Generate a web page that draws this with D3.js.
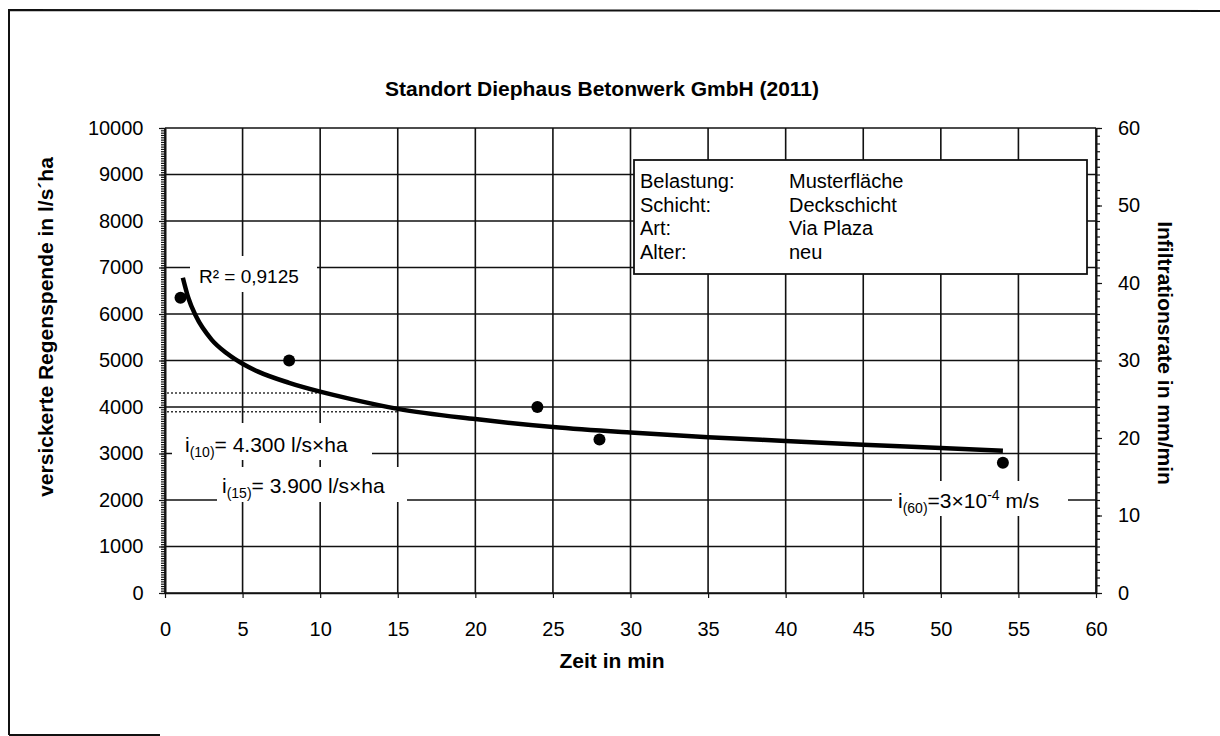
<!DOCTYPE html>
<html><head><meta charset="utf-8">
<script src="https://cdn.jsdelivr.net/npm/d3@7"></script>
<style>
body{margin:0;background:#fff}
svg{display:block}
text{font-family:"Liberation Sans",Arial,sans-serif;fill:#000}
</style>
</head><body>
<svg id="chart" width="1220" height="736"></svg>
<script>
// ---- data ----
const titleText = "Standort Diephaus Betonwerk GmbH (2011)";
const xTitle = "Zeit in min";
const yLeftTitle = "versickerte Regenspende in l/s´ha";
const yRightTitle = "Infiltrationsrate in mm/min";
const xTicks = [0,5,10,15,20,25,30,35,40,45,50,55,60];
const yLeftTicks = [0,1000,2000,3000,4000,5000,6000,7000,8000,9000,10000];
const yRightTicks = [0,10,20,30,40,50,60];
const measX = [1, 8, 24, 28, 54];
const measY = [6350, 5000, 4000, 3300, 2800];
const trendX = [1.15,1.5,2,3,4,5,6,8,10,12,15,20,25,30,35,40,45,50,54];
const trendY = [6780,6350,5950,5450,5150,4930,4760,4520,4330,4170,3960,3740,3570,3450,3350,3270,3190,3120,3060];
const refX = [10, 15];
const refY = [4300, 3900];
const legendKeys = ["Belastung:", "Schicht:", "Art:", "Alter:"];
const legendVals = ["Musterfläche", "Deckschicht", "Via Plaza", "neu"];
const r2Text = "R² = 0,9125";

// ---- layout ----
const svg = d3.select("#chart");
const L = 165, R = 1096, T = 128, B = 593;
const x = d3.scaleLinear().domain([0,60]).range([L,R]);
const yL = d3.scaleLinear().domain([0,10000]).range([B,T]);
const yR = d3.scaleLinear().domain([0,60]).range([B,T]);
const ink = "#111";

// outer frame (scan border)
svg.append("path").attr("d","M9,735 L9,10 L1220,11").attr("fill","none").attr("stroke",ink).attr("stroke-width",2);
svg.append("line").attr("x1",9).attr("x2",160).attr("y1",735).attr("y2",735).attr("stroke",ink).attr("stroke-width",2);

// grid
const g = svg.append("g");
g.selectAll("line.h").data(yLeftTicks).join("line")
  .attr("x1",L).attr("x2",R).attr("y1",d=>yL(d)).attr("y2",d=>yL(d))
  .attr("stroke",ink).attr("stroke-width",1.6);
g.selectAll("line.v").data(xTicks).join("line").attr("class","v")
  .attr("y1",T).attr("y2",B).attr("x1",d=>x(d)).attr("x2",d=>x(d))
  .attr("stroke",ink).attr("stroke-width",1.6);

// dotted reference lines
svg.selectAll("line.ref").data(refX).join("line").attr("class","ref")
  .attr("x1",x(0)+2).attr("x2",d=>x(d)).attr("y1",(d,i)=>yL(refY[i])).attr("y2",(d,i)=>yL(refY[i]))
  .attr("stroke","#333").attr("stroke-width",1.5).attr("stroke-dasharray","2,2");

// axes
const minorL = d3.range(0,10001,50);
const aLm = svg.append("g").attr("transform",`translate(${L},0)`)
  .call(d3.axisLeft(yL).tickValues(minorL).tickSize(4).tickSizeOuter(0).tickFormat(""));
const aL = svg.append("g").attr("transform",`translate(${L},0)`)
  .call(d3.axisLeft(yL).tickValues(yLeftTicks).tickSize(6).tickSizeOuter(0).tickPadding(15.5).tickFormat(d3.format("d")));
const minorR = d3.range(0,61,1);
const aRm = svg.append("g").attr("transform",`translate(${R},0)`)
  .call(d3.axisRight(yR).tickValues(minorR).tickSize(4).tickSizeOuter(0).tickFormat(""));
const aR = svg.append("g").attr("transform",`translate(${R},0)`)
  .call(d3.axisRight(yR).tickValues(yRightTicks).tickSize(6).tickSizeOuter(0).tickPadding(16));
const aB = svg.append("g").attr("transform",`translate(0,${B})`)
  .call(d3.axisBottom(x).tickValues(xTicks).tickSize(5).tickSizeOuter(0).tickPadding(24));
[aLm,aL,aRm,aR,aB].forEach(a=>{
  a.selectAll("path.domain").attr("stroke",ink).attr("stroke-width",1.6);
  a.selectAll("line").attr("stroke",ink).attr("stroke-width",1.2);
  a.selectAll("text").attr("font-size",20).attr("font-family",'"Liberation Sans",Arial,sans-serif').attr("fill","#000");
});

// white annotation boxes (cover grid)
function box(x0,y0,x1,y1){ svg.append("rect").attr("x",x0).attr("y",y0).attr("width",x1-x0).attr("height",y1-y0).attr("fill","#fff"); }
box(190,256,317,292);
box(172,423,372,460);
box(217,467,407,502);
box(892,481,1068,516);

// trend line
svg.append("path").datum(trendX.map((d,i)=>[d,trendY[i]]))
  .attr("d", d3.line().x(d=>x(d[0])).y(d=>yL(d[1])).curve(d3.curveMonotoneX))
  .attr("fill","none").attr("stroke","#000").attr("stroke-width",4.5).attr("stroke-linecap","butt");

// measured points
svg.selectAll("circle.pt").data(measX).join("circle").attr("class","pt")
  .attr("cx",d=>x(d)).attr("cy",(d,i)=>yL(measY[i])).attr("r",6).attr("fill","#000");

// annotation texts
svg.append("text").attr("x",199).attr("y",283).attr("font-size",19).text(r2Text);
function iLabel(xp,yp,sub,rest,supTxt,tail){
  const t = svg.append("text").attr("x",xp).attr("y",yp).attr("font-size",21);
  t.append("tspan").text("i");
  t.append("tspan").attr("font-size",14).attr("dy",5).text(sub);
  t.append("tspan").attr("dy",-5).text(rest);
  if(supTxt){
    t.append("tspan").attr("font-size",14).attr("dy",-8).text(supTxt);
    t.append("tspan").attr("dy",8).text(tail);
  }
}
iLabel(185,452,"(10)","= 4.300 l/s×ha");
iLabel(222,493,"(15)","= 3.900 l/s×ha");
iLabel(898,508,"(60)","=3×10","-4"," m/s");

// legend box
svg.append("rect").attr("x",634).attr("y",160).attr("width",453).attr("height",114)
  .attr("fill","#fff").attr("stroke",ink).attr("stroke-width",1.8);
legendKeys.forEach((k,i)=>{
  svg.append("text").attr("x",640).attr("y",188+i*23.5).attr("font-size",20).text(k);
  svg.append("text").attr("x",789).attr("y",188+i*23.5).attr("font-size",20).text(legendVals[i]);
});

// titles
svg.append("text").attr("x",602).attr("y",96).attr("text-anchor","middle").attr("font-size",21).attr("font-weight","bold").text(titleText);
svg.append("text").attr("x",612).attr("y",668).attr("text-anchor","middle").attr("font-size",21).attr("font-weight","bold").text(xTitle);
svg.append("text").attr("transform","translate(53,327) rotate(-90)").attr("text-anchor","middle").attr("font-size",21).attr("font-weight","bold").text(yLeftTitle);
svg.append("text").attr("transform","translate(1158,353) rotate(90)").attr("text-anchor","middle").attr("font-size",21).attr("font-weight","bold").text(yRightTitle);
</script>
</body></html>
